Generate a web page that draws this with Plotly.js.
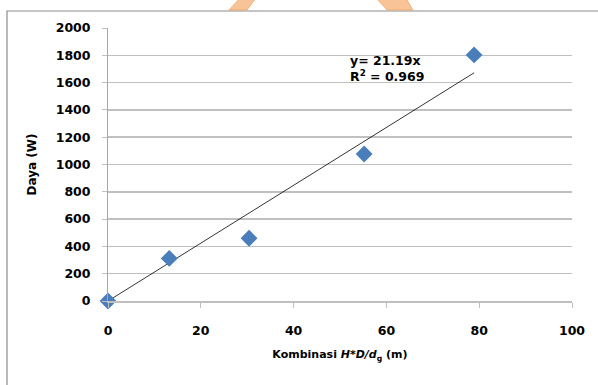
<!DOCTYPE html>
<html>
<head>
<meta charset="utf-8">
<script src="https://cdn.plot.ly/plotly-3.0.1.min.js"></script>
<style>html,body{margin:0;padding:0;background:#fff;}#chart{width:598px;height:385px;}</style>
</head>
<body>
<div id="chart"></div>
<script>
// Data
const kombinasi = [0, 13.2, 30.4, 55.2, 78.9];
const daya = [0, 312, 460, 1077, 1803];
const trendSlope = 21.19;
const trendR2 = 0.969;
const xTicks = [0, 20, 40, 60, 80, 100];
const yTicks = [0, 200, 400, 600, 800, 1000, 1200, 1400, 1600, 1800, 2000];

const xMin = Math.min(...kombinasi), xMax = Math.max(...kombinasi);
const trendX = [xMin, xMax];
const trendY = trendX.map(v => trendSlope * v);

// Pixel helpers for decorative shapes outside the plot area
const L = 108, R = 26, T = 28, B = 84, W = 598, H = 385;
const pw = W - L - R, ph = H - T - B;
const px = v => (v - L) / pw;
const py = v => (H - B - v) / ph;
function poly(pts) {
  return 'M' + pts.map(p => px(p[0]).toFixed(4) + ',' + py(p[1]).toFixed(4)).join(' L') + ' Z';
}

const font = 'DejaVu Sans, Arial, sans-serif';

const traces = [
  {
    x: trendX, y: trendY, type: 'scatter', mode: 'lines',
    line: {color: '#000000', width: 0.8}, hoverinfo: 'skip', showlegend: false
  },
  {
    x: kombinasi, y: daya, type: 'scatter', mode: 'markers', cliponaxis: false,
    marker: {symbol: 'diamond', size: 13, color: '#4A7EBB'}, showlegend: false
  }
];

const layout = {
  width: W, height: H,
  margin: {l: L, r: R, t: T, b: B, pad: 0},
  paper_bgcolor: '#ffffff', plot_bgcolor: '#ffffff',
  font: {family: font, color: '#000000'},
  showlegend: false,
  xaxis: {
    range: [0, 100], tickvals: xTicks, ticktext: xTicks.map(String),
    showgrid: false, zeroline: false,
    showline: true, linecolor: '#bfbfbf', linewidth: 1.5,
    ticks: 'outside', ticklen: 5, tickcolor: '#bfbfbf', tickwidth: 1,
    ticklabelstandoff: 12,
    tickfont: {family: font, size: 12.5, color: '#000', weight: 'bold'},
    title: {text: 'Kombinasi <i>H*D/d</i><sub>g</sub> (m)', font: {family: font, size: 11, weight: 'bold'}, standoff: 14},
    fixedrange: true
  },
  yaxis: {
    range: [0, 2000], tickvals: yTicks, ticktext: yTicks.map(String),
    showgrid: true, gridcolor: '#c0c0c0', gridwidth: 1.5,
    zeroline: false,
    showline: true, linecolor: '#a6a6a6', linewidth: 1,
    ticks: 'outside', ticklen: 5, tickcolor: '#c0c0c0', tickwidth: 1,
    ticklabelstandoff: 9,
    tickfont: {family: font, size: 12.5, color: '#000', weight: 'bold'},
    title: {text: 'Daya (W)', font: {family: font, size: 12, weight: 'bold'}, standoff: 16},
    fixedrange: true
  },
  annotations: [{
    x: 51.7, y: 1700, xref: 'x', yref: 'y', xanchor: 'left', yanchor: 'middle',
    text: 'y= ' + trendSlope.toFixed(2) + 'x<br>R<sup>2</sup> = ' + trendR2.toFixed(3),
    showarrow: false, align: 'left',
    font: {family: font, size: 12.5, color: '#000', weight: 'bold'}
  }],
  shapes: [
    {type: 'rect', xref: 'paper', yref: 'paper', x0: px(7), x1: px(640), y0: py(11), y1: py(420),
     line: {color: '#8c8c8c', width: 1.2}, fillcolor: 'rgba(0,0,0,0)', layer: 'below'},
    {type: 'path', xref: 'paper', yref: 'paper', path: poly([[240,-2],[256,-2],[247,10],[229,10]]),
     fillcolor: 'rgba(245,175,115,0.75)', line: {color: '#ee9a55', width: 0.6}},
    {type: 'path', xref: 'paper', yref: 'paper', path: poly([[376,-2],[406,-2],[413,10],[387,10]]),
     fillcolor: 'rgba(245,175,115,0.75)', line: {color: '#ee9a55', width: 0.6}}
  ]
};

Plotly.newPlot('chart', traces, layout, {displayModeBar: false, staticPlot: true});
</script>
</body>
</html>
